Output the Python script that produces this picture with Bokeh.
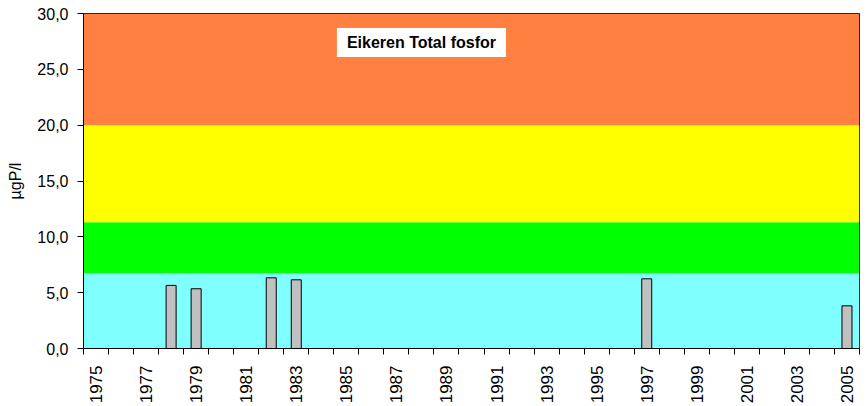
import math
from bokeh.plotting import figure
from bokeh.models import FixedTicker, CustomJSTickFormatter, Label, Range1d
from bokeh.embed import file_html
from bokeh.resources import INLINE

# Data
years = [1978, 1979, 1982, 1983, 1997, 2005]
values = [5.65, 5.35, 6.33, 6.15, 6.24, 3.82]
first_year = 1975
last_year = 2005
label_years = list(range(1975, 2006, 2))

# Classification bands (µgP/l)
band_bottom = [0.0, 6.75, 11.3, 20.0]
band_top = [6.75, 11.3, 20.0, 30.0]
band_colors = ["#80FFFF", "#00FF00", "#FFFF00", "#FF8040"]

title_text = "Eikeren Total fosfor"
y_label = "µgP/l"
FONT = "Liberation Sans"

x0 = first_year - 0.5
x1 = last_year + 0.5

p = figure(width=868, height=406, output_backend="svg", toolbar_location=None,
           x_range=Range1d(x0, x1), y_range=Range1d(0, 30),
           min_border_left=83, min_border_right=9, min_border_top=13, min_border_bottom=58)
p.background_fill_color = "white"
p.border_fill_color = "white"
p.outline_line_color = "black"
p.outline_line_width = 1
p.xgrid.visible = False
p.ygrid.visible = False

# bands
p.quad(left=[x0] * len(band_bottom), right=[x1] * len(band_bottom),
       bottom=band_bottom, top=band_top, fill_color=band_colors, line_color=None)

# bars
p.vbar(x=years, top=values, width=0.4, fill_color="#C0C0C0", line_color="black", line_width=1)

# x axis
boundaries = [y - 0.5 for y in range(first_year, last_year + 2)]
xa = p.xaxis[0]
xa.ticker = FixedTicker(ticks=label_years, minor_ticks=boundaries)
xa.major_tick_out = 0
xa.major_tick_in = 0
xa.minor_tick_out = 6
xa.minor_tick_in = 0
xa.minor_tick_line_color = "black"
xa.major_label_orientation = math.pi / 2
xa.major_label_text_font = FONT
xa.major_label_text_font_size = "17px"
xa.major_label_text_color = "black"
xa.major_label_standoff = 11
xa.axis_line_color = "black"

# y axis
ya = p.yaxis[0]
ya.ticker = FixedTicker(ticks=[0, 5, 10, 15, 20, 25, 30], minor_ticks=[])
ya.formatter = CustomJSTickFormatter(code="return tick.toFixed(1).replace('.', ',');")
ya.major_tick_out = 6
ya.major_tick_in = 0
ya.minor_tick_out = 0
ya.minor_tick_in = 0
ya.major_label_text_font = FONT
ya.major_label_text_font_size = "16px"
ya.major_label_text_color = "black"
ya.major_label_standoff = 9
ya.axis_label = y_label
ya.axis_label_text_font = FONT
ya.axis_label_text_font_size = "16px"
ya.axis_label_text_font_style = "normal"
ya.axis_label_text_color = "black"
ya.axis_label_standoff = 10
ya.axis_line_color = "black"

# title box
lbl = Label(x=1988, y=27.4, text=title_text, text_align="center", text_baseline="middle",
            text_font=FONT, text_font_size="16px", text_font_style="bold", text_color="black",
            background_fill_color="white", padding=(10, 6))
p.add_layout(lbl)

open("out.html", "w").write(file_html(p, INLINE))
